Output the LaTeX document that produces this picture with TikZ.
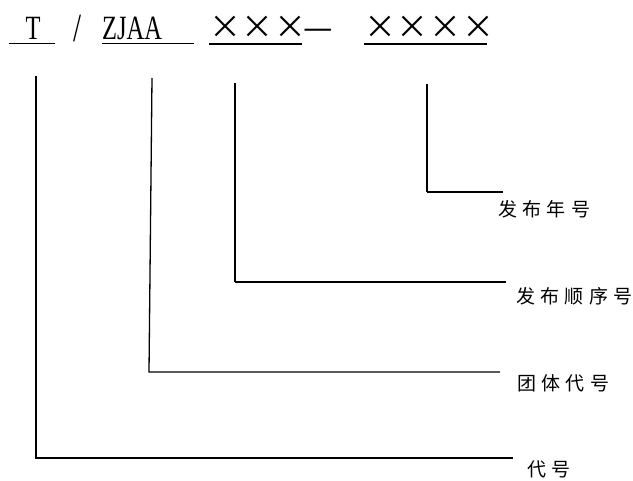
\documentclass[tikz,border=0pt]{standalone}
\usepackage{graphicx}
\usepackage{fontspec}
\setmainfont{Liberation Serif}
\newfontfamily\cjk[LetterSpace=28]{Noto Sans CJK SC}
\newfontfamily\crossfont[LetterSpace=2]{Noto Sans CJK SC}
\newfontfamily\dashfont{Noto Sans CJK SC}
\newcommand{\codefont}{\fontsize{34}{34}\selectfont}
\newcommand{\markfont}{\fontsize{32}{32}\selectfont\crossfont}
\newcommand{\labfont}{\fontsize{19}{19}\selectfont\cjk}

\begin{document}
\begin{tikzpicture}[x=1pt,y=-1pt]
\useasboundingbox (0,0) rectangle (633,481);

% code string
\node[anchor=base,inner sep=0pt,font=\codefont] (cat) at (33,40) {\scalebox{0.72}[1]{T}};
\node[anchor=base,inner sep=0pt,font=\fontsize{40}{40}\selectfont] (slash) at (78,42) {\scalebox{0.72}[1]{/}};
\node[anchor=base west,inner sep=0pt,font=\codefont] (org) at (102,40) {\scalebox{0.72}[1]{ZJAA}};
\node[anchor=base west,inner sep=0pt,font=\markfont] (seq) at (209,39) {×××};
\node[anchor=west,inner sep=0pt,font=\fontsize{33}{33}\selectfont\dashfont] (dash) at (303,34) {—};
\node[anchor=base west,inner sep=0pt,font=\markfont] (year) at (364,39) {××××};

% underlines
\draw[line width=1.4pt] (9,43.5) -- (55,43.5);
\draw[line width=1.4pt] (102,43.5) -- (194,43.5);
\draw[line width=1.4pt] (209,44) -- (302,44);
\draw[line width=1.4pt] (364,44) -- (487,44);

% labels
\node[anchor=west,inner sep=0pt,font=\labfont] (yearlab) at (498,209) {发布年号};
\node[anchor=west,inner sep=0pt,font=\labfont] (seqlab) at (516,296) {发布顺序号};
\node[anchor=west,inner sep=0pt,font=\labfont] (orglab) at (517,383) {团体代号};
\node[anchor=west,inner sep=0pt,font=\labfont] (catlab) at (527,469) {代号};

% leader lines
\coordinate (catTop) at (36,76);
\coordinate (catEnd) at (513,458);
\coordinate (orgTop) at (152,78);
\coordinate (orgBend) at (149,372);
\coordinate (orgEnd) at (500,372);
\coordinate (seqTop) at (235,83);
\coordinate (seqEnd) at (506,282);
\coordinate (yearTop) at (427,84);
\coordinate (yearEnd) at (503,192);

\draw[line width=1.3pt] (catTop) |- (catEnd);
\draw[line width=1.3pt] (orgTop) -- (orgBend) -- (orgEnd);
\draw[line width=1.3pt] (seqTop) -- (seqTop |- seqEnd);
\draw[line width=2.6pt] (seqTop |- seqEnd) -- (seqEnd);
\draw[line width=1.3pt] (yearTop) -- (yearTop |- yearEnd);
\draw[line width=2.6pt] (yearTop |- yearEnd) -- (yearEnd);

\end{tikzpicture}
\end{document}
